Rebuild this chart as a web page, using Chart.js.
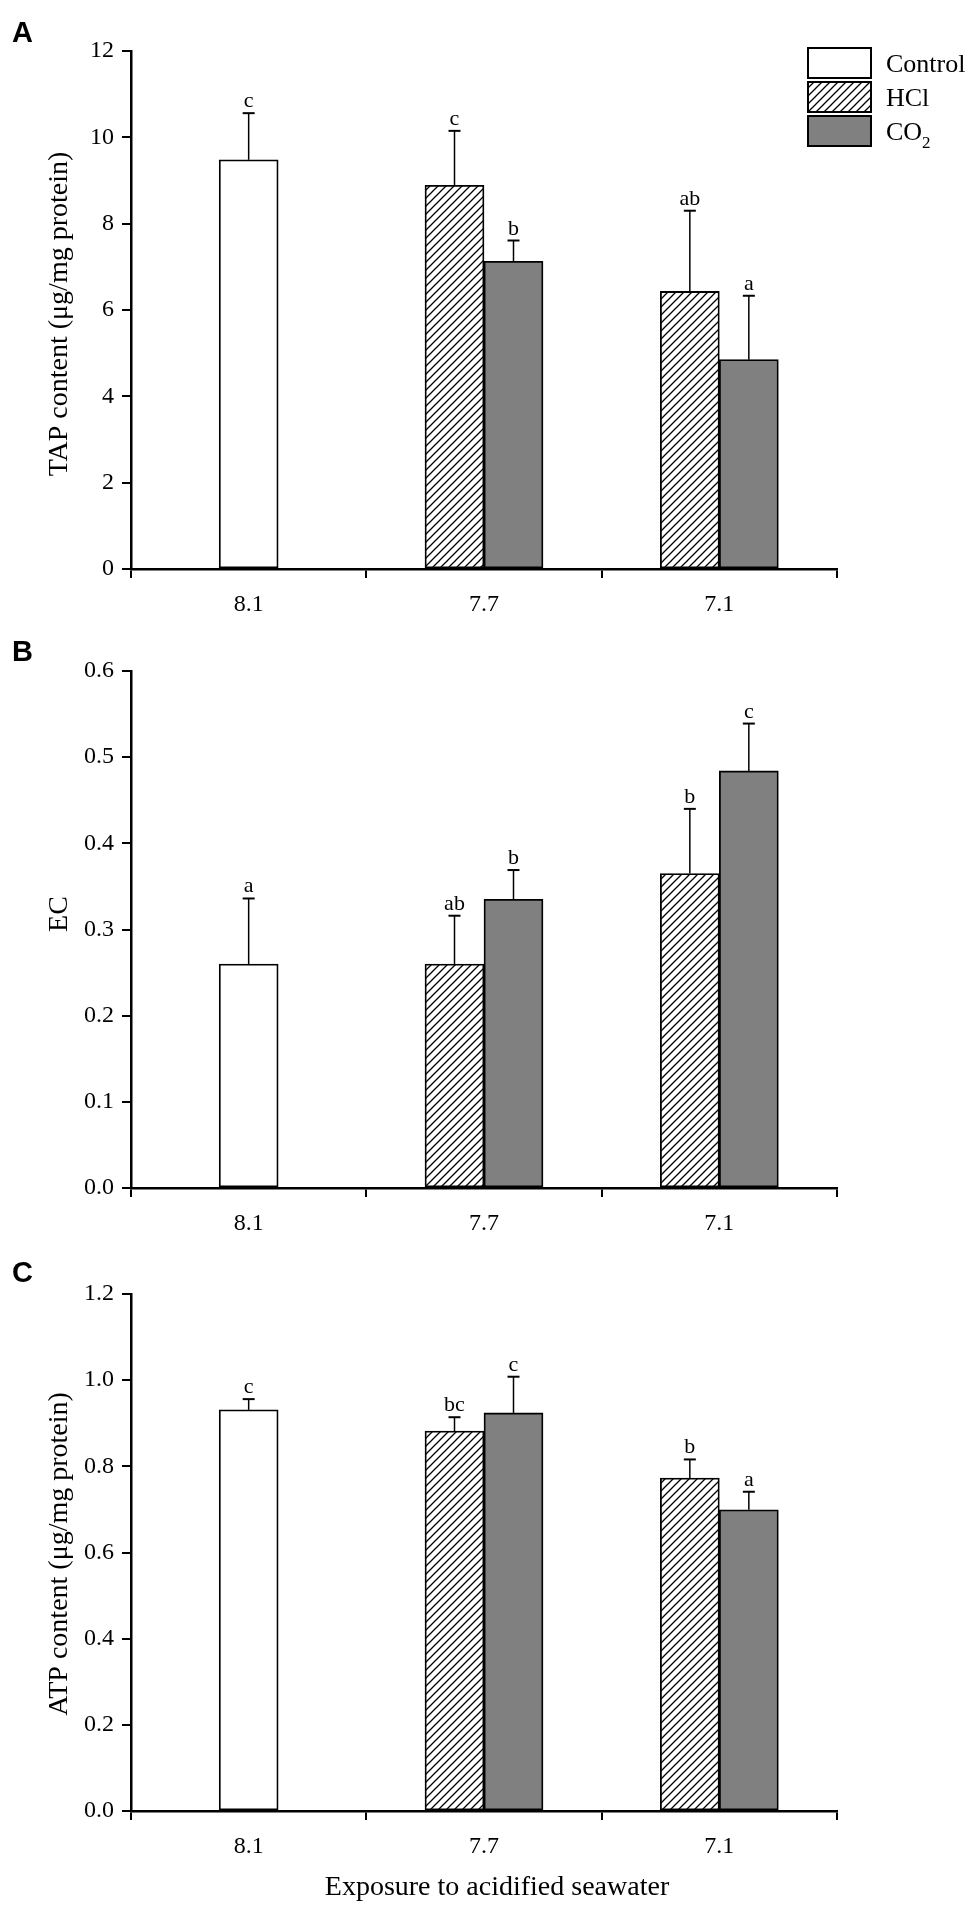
<!DOCTYPE html>
<html lang="en">
<head>
<meta charset="utf-8">
<title>TAP, EC and ATP content in acidified seawater</title>
<script src="https://cdn.jsdelivr.net/npm/chart.js@4.4.1/dist/chart.umd.min.js"></script>
<style>
  html, body { margin: 0; padding: 0; background: #fff; }
  #wrap { position: relative; width: 975px; height: 1908px; }
  #wrap canvas { position: absolute; left: 0; }
</style>
</head>
<body>
<div id="wrap">
  <canvas id="panel-a" width="975" height="620" style="top:0px"></canvas>
  <canvas id="panel-b" width="975" height="620" style="top:620px"></canvas>
  <canvas id="panel-c" width="975" height="668" style="top:1240px"></canvas>
</div>
<script>
// ---- data ----
const categories = ['8.1', '7.7', '7.1'];
const seriesNames = ['Control', 'HCl', 'CO2'];

// A: TAP content (μg/mg protein)
const tapTicks = [0, 2, 4, 6, 8, 10, 12];
const tapControl = [9.48, null, null];
const tapHCl = [null, 8.89, 6.43];
const tapCO2 = [null, 7.13, 4.85];
const tapControlErr = [1.08, null, null];
const tapHClErr = [null, 1.26, 1.87];
const tapCO2Err = [null, 0.48, 1.48];
const tapControlSig = ['c', null, null];
const tapHClSig = [null, 'c', 'ab'];
const tapCO2Sig = [null, 'b', 'a'];

// B: EC
const ecTicks = [0, 0.1, 0.2, 0.3, 0.4, 0.5, 0.6];
const ecControl = [0.260, null, null];
const ecHCl = [null, 0.260, 0.365];
const ecCO2 = [null, 0.335, 0.484];
const ecControlErr = [0.076, null, null];
const ecHClErr = [null, 0.056, 0.075];
const ecCO2Err = [null, 0.034, 0.055];
const ecControlSig = ['a', null, null];
const ecHClSig = [null, 'ab', 'b'];
const ecCO2Sig = [null, 'b', 'c'];

// C: ATP content (μg/mg protein)
const atpTicks = [0, 0.2, 0.4, 0.6, 0.8, 1.0, 1.2];
const atpControl = [0.931, null, null];
const atpHCl = [null, 0.882, 0.773];
const atpCO2 = [null, 0.924, 0.699];
const atpControlErr = [0.025, null, null];
const atpHClErr = [null, 0.032, 0.043];
const atpCO2Err = [null, 0.084, 0.042];
const atpControlSig = ['c', null, null];
const atpHClSig = [null, 'bc', 'b'];
const atpCO2Sig = [null, 'c', 'a'];

const xTitle = 'Exposure to acidified seawater';

// ---- styling ----
const SERIF = '"Liberation Serif", "Times New Roman", Times, serif';
const SANS = '"Liberation Sans", Arial, Helvetica, sans-serif';

// diagonal hatch for the HCl bars
const hatch = (() => {
  const c = document.createElement('canvas');
  c.width = 8;
  c.height = 8;
  const g = c.getContext('2d');
  g.fillStyle = '#fff';
  g.fillRect(0, 0, 8, 8);
  g.strokeStyle = '#000';
  g.lineWidth = 1.3;
  g.beginPath();
  g.moveTo(-1, 9); g.lineTo(9, -1);
  g.moveTo(-1, 1); g.lineTo(1, -1);
  g.moveTo(7, 9); g.lineTo(9, 7);
  g.stroke();
  return g.createPattern(c, 'repeat');
})();

const fills = ['#ffffff', hatch, '#808080'];

// draws "CO2" with the trailing digits as a subscript
function drawLabel(ctx, text, x, y, size) {
  const m = text.match(/^(.*?[A-Za-z])(\d+)$/);
  ctx.font = size + 'px ' + SERIF;
  if (!m) {
    ctx.fillText(text, x, y);
    return;
  }
  ctx.fillText(m[1], x, y);
  const w = ctx.measureText(m[1]).width;
  ctx.font = Math.round(size * 0.65) + 'px ' + SERIF;
  ctx.fillText(m[2], x + w, y + size * 0.3);
}

// error bars with significance letters
const errorBarPlugin = {
  id: 'errorBars',
  afterDatasetsDraw(chart) {
    const ctx = chart.ctx;
    const yScale = chart.scales.y;
    chart.data.datasets.forEach((ds, di) => {
      const meta = chart.getDatasetMeta(di);
      meta.data.forEach((bar, i) => {
        const v = ds.data[i];
        if (v == null) return;
        const top = yScale.getPixelForValue(v + ds.errors[i]);
        const x = bar.x;
        ctx.save();
        ctx.strokeStyle = '#000';
        ctx.lineWidth = 1.5;
        ctx.beginPath();
        ctx.moveTo(x, bar.y);
        ctx.lineTo(x, top);
        ctx.stroke();
        ctx.lineWidth = 2;
        ctx.beginPath();
        ctx.moveTo(x - 6, top);
        ctx.lineTo(x + 6, top);
        ctx.stroke();
        if (ds.sig[i]) {
          ctx.fillStyle = '#000';
          ctx.font = '22px ' + SERIF;
          ctx.textAlign = 'center';
          ctx.textBaseline = 'alphabetic';
          ctx.fillText(ds.sig[i], x, top - 6);
        }
        ctx.restore();
      });
    });
  }
};

// panel letter, axis titles and legend
const panelPlugin = {
  id: 'panelExtras',
  afterDraw(chart, args, opts) {
    const ctx = chart.ctx;
    ctx.save();
    ctx.fillStyle = '#000';

    ctx.font = 'bold 29px ' + SANS;
    ctx.textAlign = 'left';
    ctx.textBaseline = 'alphabetic';
    ctx.fillText(opts.letter, 12, opts.letterY);

    // y title, rotated
    ctx.save();
    ctx.translate(67, opts.yTitleY);
    ctx.rotate(-Math.PI / 2);
    ctx.font = '28px ' + SERIF;
    ctx.textAlign = 'center';
    ctx.fillText(opts.yTitle, 0, 0);
    ctx.restore();

    if (opts.xTitle) {
      ctx.font = '28px ' + SERIF;
      ctx.textAlign = 'center';
      ctx.fillText(opts.xTitle, 497, opts.xTitleY);
    }

    if (opts.legend) {
      chart.data.datasets.forEach((ds, i) => {
        const bx = 808, by = 48 + i * 34, bw = 63, bh = 30;
        ctx.fillStyle = ds.backgroundColor;
        ctx.fillRect(bx, by, bw, bh);
        ctx.strokeStyle = '#000';
        ctx.lineWidth = 2;
        ctx.strokeRect(bx, by, bw, bh);
        ctx.fillStyle = '#000';
        ctx.textAlign = 'left';
        ctx.textBaseline = 'alphabetic';
        drawLabel(ctx, ds.label, 886, by + bh / 2 + 9, 26);
      });
    }
    ctx.restore();
  }
};

function makePanel(p) {
  const datasets = seriesNames.map((name, i) => ({
    label: name,
    data: p.values[i],
    errors: p.errors[i],
    sig: p.sig[i],
    backgroundColor: fills[i],
    borderColor: '#000',
    borderWidth: 1.8,
    borderSkipped: false,
    barThickness: 59,
    skipNull: true
  }));

  return new Chart(document.getElementById(p.id), {
    type: 'bar',
    data: { labels: categories, datasets: datasets },
    options: {
      responsive: false,
      animation: false,
      events: [],
      layout: { padding: { left: 0, right: 138, top: p.top, bottom: 0 } },
      plugins: {
        legend: { display: false },
        tooltip: { enabled: false },
        panelExtras: {
          letter: p.letter,
          letterY: p.letterY,
          yTitle: p.yTitle,
          yTitleY: p.yTitleY,
          xTitle: p.xTitle,
          xTitleY: p.xTitleY,
          legend: p.legend
        }
      },
      scales: {
        x: {
          offset: true,
          grid: {
            offset: true,
            drawOnChartArea: false,
            drawTicks: true,
            tickLength: 9,
            color: '#000',
            lineWidth: 2
          },
          border: { display: true, color: '#000', width: 2.5 },
          ticks: { color: '#000', padding: 12, font: { family: SERIF, size: 24 } },
          afterFit: s => { s.height = p.height - p.bottom; }
        },
        y: {
          min: p.ticks[0],
          max: p.ticks[p.ticks.length - 1],
          grid: {
            drawOnChartArea: false,
            drawTicks: true,
            tickLength: 9,
            color: '#000',
            lineWidth: 2
          },
          border: { display: true, color: '#000', width: 2.5 },
          ticks: {
            color: '#000',
            padding: 8,
            autoSkip: false,
            font: { family: SERIF, size: 24 },
            callback: v => Number(v).toFixed(p.decimals)
          },
          afterBuildTicks: s => { s.ticks = p.ticks.map(v => ({ value: v })); },
          afterFit: s => { s.width = 131; }
        }
      }
    },
    plugins: [errorBarPlugin, panelPlugin]
  });
}

makePanel({
  id: 'panel-a', letter: 'A', letterY: 42, height: 620, top: 51, bottom: 569,
  ticks: tapTicks, decimals: 0,
  values: [tapControl, tapHCl, tapCO2],
  errors: [tapControlErr, tapHClErr, tapCO2Err],
  sig: [tapControlSig, tapHClSig, tapCO2Sig],
  yTitle: 'TAP content (μg/mg protein)', yTitleY: 314,
  legend: true
});

makePanel({
  id: 'panel-b', letter: 'B', letterY: 41, height: 620, top: 51, bottom: 568,
  ticks: ecTicks, decimals: 1,
  values: [ecControl, ecHCl, ecCO2],
  errors: [ecControlErr, ecHClErr, ecCO2Err],
  sig: [ecControlSig, ecHClSig, ecCO2Sig],
  yTitle: 'EC', yTitleY: 294,
  legend: false
});

makePanel({
  id: 'panel-c', letter: 'C', letterY: 42, height: 668, top: 54, bottom: 571,
  ticks: atpTicks, decimals: 1,
  values: [atpControl, atpHCl, atpCO2],
  errors: [atpControlErr, atpHClErr, atpCO2Err],
  sig: [atpControlSig, atpHClSig, atpCO2Sig],
  yTitle: 'ATP content (μg/mg protein)', yTitleY: 314,
  xTitle: xTitle, xTitleY: 655,
  legend: false
});
</script>
</body>
</html>
